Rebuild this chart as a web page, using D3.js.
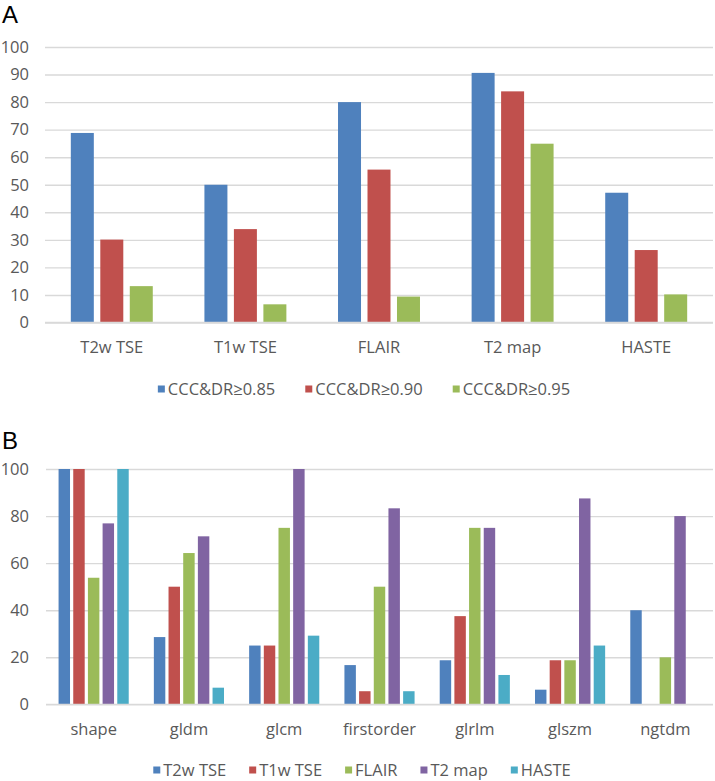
<!DOCTYPE html>
<html>
<head>
<meta charset="utf-8">
<script src="https://cdn.jsdelivr.net/npm/d3@7"></script>
<style>
  html, body { margin: 0; padding: 0; background: #fff; }
  svg { display: block; }
  text { font-family: "Open Sans", "Noto Sans", sans-serif; }
</style>
</head>
<body>
<svg id="chart" width="715" height="781"></svg>
<script>
// ---------- Data: panel A ----------
const catsA = ["T2w TSE", "T1w TSE", "FLAIR", "T2 map", "HASTE"];
const seriesA = ["CCC&DR≥0.85", "CCC&DR≥0.90", "CCC&DR≥0.95"];
const valsA085 = [68.8, 50.0, 80.0, 90.6, 47.1];
const valsA090 = [30.1, 33.9, 55.5, 83.9, 26.3];
const valsA095 = [13.2, 6.6, 9.4, 64.9, 10.2];
const ticksA = [0, 10, 20, 30, 40, 50, 60, 70, 80, 90, 100];
const colorsA = ["#4F81BD", "#C0504D", "#9BBB59"];

// ---------- Data: panel B ----------
const catsB = ["shape", "gldm", "glcm", "firstorder", "glrlm", "glszm", "ngtdm"];
const seriesB = ["T2w TSE", "T1w TSE", "FLAIR", "T2 map", "HASTE"];
const valsBT2w  = [100, 28.6, 25.0, 16.7, 18.75, 6.25, 40];
const valsBT1w  = [100, 50.0, 25.0, 5.6, 37.5, 18.75, 0];
const valsBFLAIR= [53.8, 64.3, 75.0, 50.0, 75.0, 18.75, 20];
const valsBT2map= [76.9, 71.4, 100, 83.3, 75.0, 87.5, 80];
const valsBHASTE= [100, 7.1, 29.2, 5.6, 12.5, 25.0, 0];
const ticksB = [0, 20, 40, 60, 80, 100];
const colorsB = ["#4F81BD", "#C0504D", "#9BBB59", "#8064A2", "#4BACC6"];

const svg = d3.select("#chart");
const textColor = "#595959";
const gridColor = "#D9D9D9";

function drawPanel(opt) {
  const g = svg.append("g");
  const x0 = d3.scaleBand().domain(opt.cats).range([opt.x0, opt.x1]).padding(0);
  const bw = x0.bandwidth();
  const x1 = d3.scaleBand().domain(opt.series)
    .range([bw * opt.outer, bw * (1 - opt.outer)])
    .paddingInner(0.22).paddingOuter(0.11);
  const y = d3.scaleLinear().domain([0, 100]).range([opt.yBottom, opt.yTop]);

  // gridlines
  const yAxis = d3.axisLeft(y).tickValues(opt.ticks).tickSize(-(opt.x1 - opt.x0)).tickPadding(16);
  const ga = g.append("g").attr("transform", `translate(${opt.x0},0)`).call(yAxis);
  ga.select(".domain").remove();
  ga.selectAll(".tick line").attr("stroke", gridColor).attr("stroke-width", 1.4);
  ga.selectAll(".tick text")
    .attr("x", opt.labelRight - opt.x0)
    .attr("text-anchor", "end")
    .attr("fill", textColor)
    .style("font-size", "16.5px")
    .style("font-family", '"Open Sans", "Noto Sans", sans-serif');

  // bars
  const data = opt.cats.map((c, i) => ({ cat: c, vals: opt.series.map((s, j) => ({ s, v: opt.values[j][i], j })) }));
  const groups = g.append("g").selectAll("g").data(data).join("g")
    .attr("transform", d => `translate(${x0(d.cat)},0)`);
  groups.selectAll("rect").data(d => d.vals).join("rect")
    .attr("x", d => x1(d.s))
    .attr("width", x1.bandwidth())
    .attr("y", d => y(d.v))
    .attr("height", d => y(0) - y(d.v))
    .attr("fill", d => opt.colors[d.j]);

  // baseline
  g.append("line").attr("x1", opt.x0).attr("x2", opt.x1)
    .attr("y1", y(0)).attr("y2", y(0))
    .attr("stroke", gridColor).attr("stroke-width", 1.4);

  // x axis labels
  const xAxis = d3.axisBottom(x0).tickSize(0).tickPadding(0);
  const gx = g.append("g").attr("transform", `translate(0,${opt.xLabelY})`).call(xAxis);
  gx.select(".domain").remove();
  gx.selectAll(".tick text")
    .attr("y", 0).attr("dy", "0.35em")
    .attr("fill", textColor)
    .style("font-size", "16.5px")
    .style("font-family", '"Open Sans", "Noto Sans", sans-serif');

  // legend
  const leg = g.append("g");
  const items = leg.selectAll("g").data(opt.series).join("g");
  items.append("rect").attr("width", 7).attr("height", 7).attr("y", -3.5)
    .attr("fill", (d, i) => opt.colors[i]);
  items.append("text").attr("x", 10).attr("dy", "0.35em")
    .attr("fill", textColor).style("font-size", "16.5px").text(d => d);
  let cx = 0;
  items.each(function () {
    const w = this.getBBox().width;
    d3.select(this).attr("transform", `translate(${cx},0)`);
    cx += w + opt.legendGap;
  });
  const total = cx - opt.legendGap;
  leg.attr("transform", `translate(${opt.legendCenter - total / 2},${opt.legendY})`);

  // panel letter
  svg.append("text").attr("x", 2).attr("y", opt.letterY)
    .style("font-family", '"Liberation Sans", Arial, sans-serif')
    .style("font-size", "24px").attr("fill", "#000").text(opt.letter);
}

drawPanel({
  letter: "A", letterY: 23,
  cats: catsA, series: seriesA, values: [valsA085, valsA090, valsA095], colors: colorsA,
  ticks: ticksA, x0: 45, x1: 713, yTop: 47, yBottom: 322.5, labelRight: 29,
  outer: 0.169, xLabelY: 347, legendY: 389, legendCenter: 364, legendGap: 30
});

drawPanel({
  letter: "B", letterY: 449,
  cats: catsB, series: seriesB,
  values: [valsBT2w, valsBT1w, valsBFLAIR, valsBT2map, valsBHASTE], colors: colorsB,
  ticks: ticksB, x0: 46, x1: 713, yTop: 469, yBottom: 704.4, labelRight: 29,
  outer: 0.115, xLabelY: 729, legendY: 770, legendCenter: 362, legendGap: 23
});
</script>
</body>
</html>
